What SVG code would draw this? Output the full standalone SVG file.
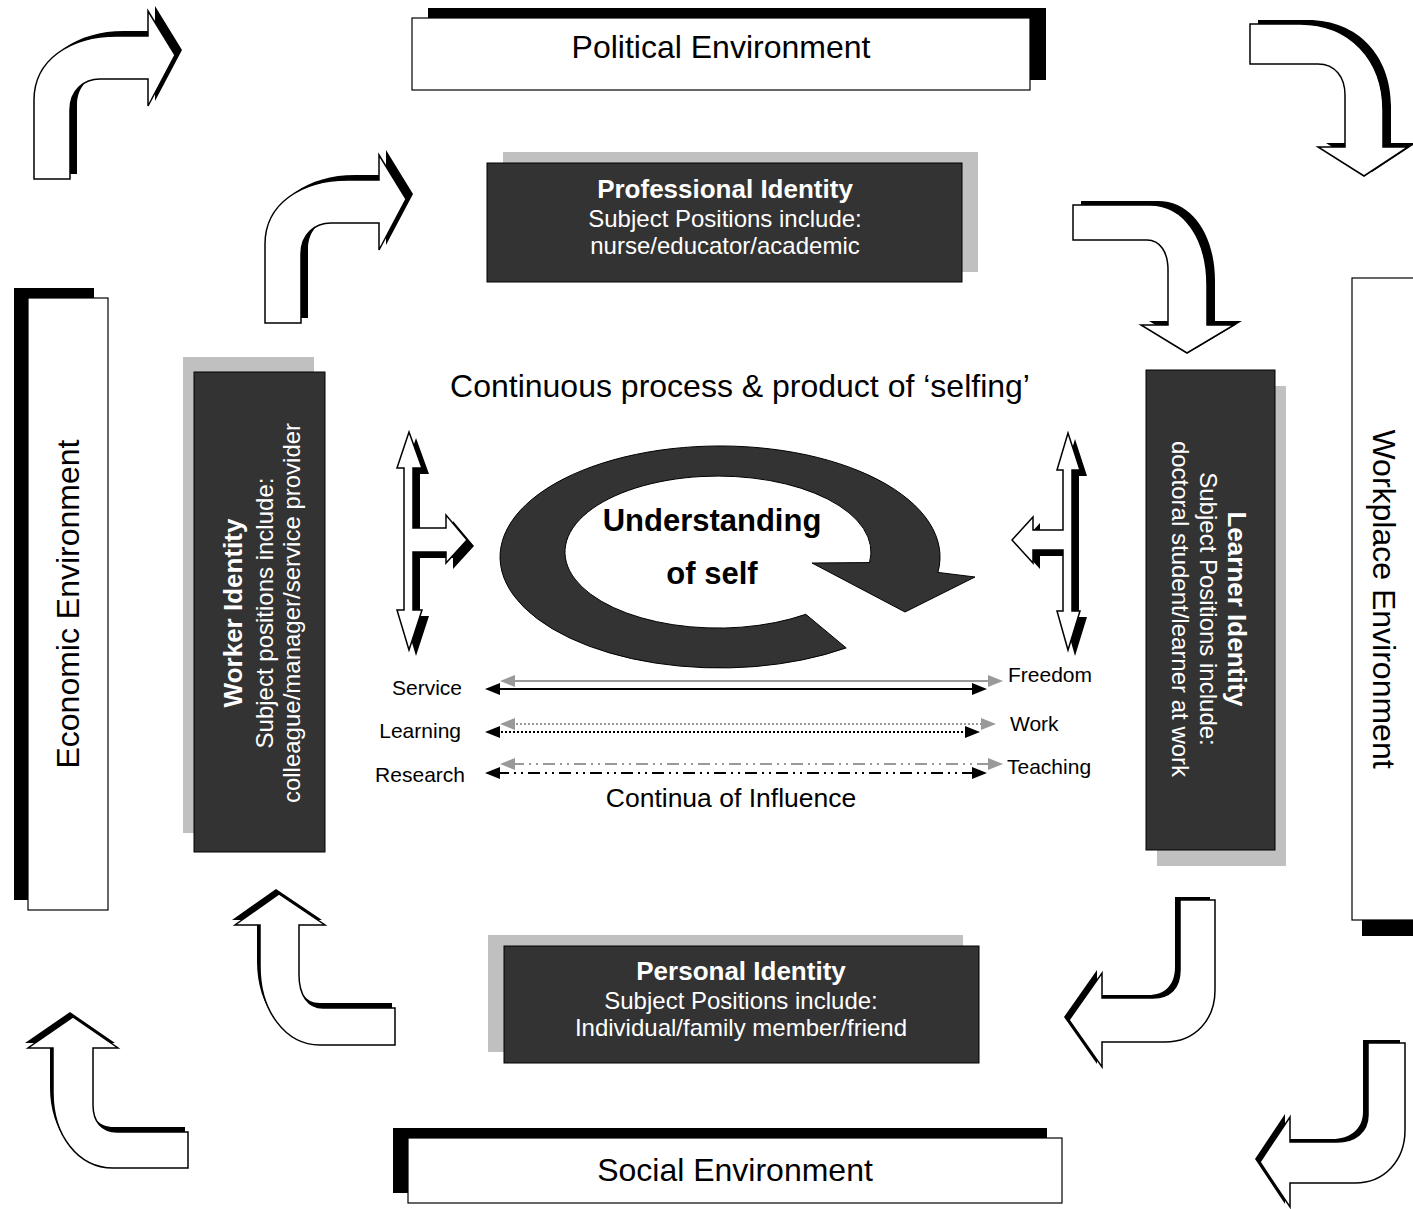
<svg xmlns="http://www.w3.org/2000/svg" width="1413" height="1209" viewBox="0 0 1413 1209">
  <style>
    text { font-family: "Liberation Sans", Arial, sans-serif; }
    .env { fill: #ffffff; stroke: #000000; stroke-width: 1.2; }
    .envsh { fill: #000000; }
    .idn { fill: #333333; stroke: #000000; stroke-width: 1; }
    .idsh { fill: #c0c0c0; }
    .bent { fill: #ffffff; stroke: #000000; stroke-width: 1.5; stroke-linejoin: miter; }
    .sh { fill: #000000; }
    .envtxt { font-size: 32px; fill: #000000; text-anchor: middle; }
    .idt { font-size: 26px; font-weight: bold; fill: #ffffff; text-anchor: middle; }
    .ids { font-size: 24px; fill: #ffffff; text-anchor: middle; }
    .lbl { font-size: 21px; fill: #000000; }
    .blk { stroke: #000000; stroke-width: 2; fill: none; }
    .gry { stroke: #999999; stroke-width: 2; fill: none; }
    .hb { fill: #000000; }
    .hg { fill: #999999; }
  </style>
  <defs>
    <path id="bentA" d="M34,179 L34,100 C34,60 70,36 117,36 L148,36 L148,11 L175,55 L148,106 L148,79 L100,79 C84,79 70,90 70,110 L70,179 Z"/>
  </defs>

  <!-- surrounding environments -->
  <g id="political-environment">
    <rect class="envsh" x="428" y="8" width="618" height="72"/>
    <rect class="env" x="412" y="18" width="618" height="72"/>
    <text class="envtxt" x="721" y="58">Political Environment</text>
  </g>
  <g id="social-environment">
    <rect class="envsh" x="393" y="1128" width="654" height="65"/>
    <rect class="env" x="408" y="1138" width="654" height="65"/>
    <text class="envtxt" x="735" y="1181">Social Environment</text>
  </g>
  <g id="economic-environment">
    <rect class="envsh" x="14" y="288" width="80" height="612"/>
    <rect class="env" x="28" y="298" width="80" height="612"/>
    <text class="envtxt" transform="translate(79,604) rotate(-90)">Economic Environment</text>
  </g>
  <g id="workplace-environment">
    <rect class="envsh" x="1362" y="294" width="80" height="642"/>
    <rect class="env" x="1352" y="278" width="80" height="642"/>
    <text class="envtxt" transform="translate(1373,599) rotate(90)">Workplace Environment</text>
  </g>

  <!-- identity boxes -->
  <g id="professional-identity">
    <rect class="idsh" x="503" y="152" width="475" height="120"/>
    <rect class="idn" x="487" y="163" width="475" height="119"/>
    <text class="idt" x="725" y="198">Professional Identity</text>
    <text class="ids" x="725" y="227">Subject Positions include:</text>
    <text class="ids" x="725" y="254">nurse/educator/academic</text>
  </g>
  <g id="personal-identity">
    <rect class="idsh" x="488" y="935" width="475" height="117"/>
    <rect class="idn" x="504" y="946" width="475" height="117"/>
    <text class="idt" x="741" y="980">Personal Identity</text>
    <text class="ids" x="741" y="1009">Subject Positions include:</text>
    <text class="ids" x="741" y="1036">Individual/family member/friend</text>
  </g>
  <g id="worker-identity">
    <rect class="idsh" x="183" y="357" width="131" height="476"/>
    <rect class="idn" x="194" y="372" width="131" height="480"/>
    <text class="idt" transform="translate(242,613) rotate(-90)">Worker Identity</text>
    <text class="ids" transform="translate(273,613) rotate(-90)">Subject positions include:</text>
    <text class="ids" transform="translate(300,613) rotate(-90)">colleague/manager/service provider</text>
  </g>
  <g id="learner-identity">
    <rect class="idsh" x="1157" y="386" width="129" height="480"/>
    <rect class="idn" x="1146" y="370" width="129" height="480"/>
    <text class="idt" transform="translate(1228,609) rotate(90)">Learner Identity</text>
    <text class="ids" transform="translate(1200,609) rotate(90)">Subject Positions include:</text>
    <text class="ids" transform="translate(1172,609) rotate(90)">doctoral student/learner at work</text>
  </g>

  <!-- centre: cycle of selfing -->
  <g id="selfing">
    <text x="740" y="397" style="font-size:32px;text-anchor:middle">Continuous process &amp; product of ‘selfing’</text>
    <path d="M846.2,647.9 A220,111 0 1 1 937.9,572.4 L975,577 L905,612 L812,563 L869.5,562.6 A153,76 0 1 0 805.8,614.3 Z" fill="#333333" stroke="#000000" stroke-width="1"/>
    <text x="712" y="531" style="font-size:31px;font-weight:bold;text-anchor:middle">Understanding</text>
    <text x="712" y="584" style="font-size:31px;font-weight:bold;text-anchor:middle">of self</text>
  </g>

  <!-- continua of influence -->
  <g id="continua">
    <text class="lbl" x="462" y="695" text-anchor="end">Service</text>
    <text class="lbl" x="461" y="738" text-anchor="end">Learning</text>
    <text class="lbl" x="465" y="782" text-anchor="end">Research</text>
    <text class="lbl" x="1008" y="682">Freedom</text>
    <text class="lbl" x="1010" y="731">Work</text>
    <text class="lbl" x="1007" y="774">Teaching</text>
    <text x="731" y="807" style="font-size:26.5px;text-anchor:middle">Continua of Influence</text>
  </g>

  <!-- connectors -->
  <g id="connectors">
    <!-- bent arrows, each with its drop shadow -->
    <use href="#bentA" class="sh" transform="translate(7,-5)"/>
    <use href="#bentA" class="bent"/>
    <use href="#bentA" class="sh" transform="translate(238,139)"/>
    <use href="#bentA" class="bent" transform="translate(231,144)"/>

    <path class="sh" transform="translate(8,-4)" d="M1250,24 L1300,24 C1350,24 1383,60 1383,110 L1383,147 L1408,147 L1364,176 L1318,147 L1345,147 L1345,95 C1345,77 1335,64 1318,64 L1250,64 Z"/>
    <path class="bent" d="M1250,24 L1300,24 C1350,24 1383,60 1383,110 L1383,147 L1408,147 L1364,176 L1318,147 L1345,147 L1345,95 C1345,77 1335,64 1318,64 L1250,64 Z"/>

    <path class="sh" transform="translate(8,-4)" d="M1073,205 L1150,205 C1185,205 1207,240 1207,285 L1207,325 L1234,325 L1187,353 L1141,325 L1168,325 L1168,270 C1168,252 1160,240 1147,240 L1073,240 Z"/>
    <path class="bent" d="M1073,205 L1150,205 C1185,205 1207,240 1207,285 L1207,325 L1234,325 L1187,353 L1141,325 L1168,325 L1168,270 C1168,252 1160,240 1147,240 L1073,240 Z"/>

    <path class="sh" transform="translate(-3,-5)" d="M260,925 L235,925 L279,894 L325,925 L299,925 L299,975 C299,995 308,1008 323,1008 L395,1008 L395,1045 L320,1045 C285,1045 260,1010 260,967 Z"/>
    <path class="bent" d="M260,925 L235,925 L279,894 L325,925 L299,925 L299,975 C299,995 308,1008 323,1008 L395,1008 L395,1045 L320,1045 C285,1045 260,1010 260,967 Z"/>

    <path class="sh" transform="translate(-3,-5)" d="M53,1048 L28,1048 L73,1017 L118,1048 L93,1048 L93,1105 C93,1122 102,1132 117,1132 L188,1132 L188,1168 L113,1168 C78,1168 53,1135 53,1093 Z"/>
    <path class="bent" d="M53,1048 L28,1048 L73,1017 L118,1048 L93,1048 L93,1105 C93,1122 102,1132 117,1132 L188,1132 L188,1168 L113,1168 C78,1168 53,1135 53,1093 Z"/>

    <path class="sh" transform="translate(-5,-3)" d="M1180,900 L1215,900 L1215,990 C1215,1020 1195,1042 1165,1042 L1102,1042 L1102,1067 L1069,1020 L1102,973 L1102,998 L1153,998 C1170,998 1180,988 1180,970 Z"/>
    <path class="bent" d="M1180,900 L1215,900 L1215,990 C1215,1020 1195,1042 1165,1042 L1102,1042 L1102,1067 L1069,1020 L1102,973 L1102,998 L1153,998 C1170,998 1180,988 1180,970 Z"/>

    <path class="sh" transform="translate(-5,-3)" d="M1368,1043 L1405,1043 L1405,1130 C1405,1160 1385,1183 1355,1183 L1290,1183 L1290,1207 L1260,1162 L1290,1117 L1290,1142 L1337,1142 C1355,1142 1368,1132 1368,1115 Z"/>
    <path class="bent" d="M1368,1043 L1405,1043 L1405,1130 C1405,1160 1385,1183 1355,1183 L1290,1183 L1290,1207 L1260,1162 L1290,1117 L1290,1142 L1337,1142 C1355,1142 1368,1132 1368,1115 Z"/>

    <!-- T-shaped double arrows beside the cycle -->
    <path class="sh" transform="translate(7,6)" d="M409,432 L422,468 L413,468 L413,528 L446,528 L446,515 L467,540 L446,563 L446,552 L413,552 L413,610 L422,610 L409,650 L397,610 L404,610 L404,468 L397,468 Z"/>
    <path class="bent" d="M409,432 L422,468 L413,468 L413,528 L446,528 L446,515 L467,540 L446,563 L446,552 L413,552 L413,610 L422,610 L409,650 L397,610 L404,610 L404,468 L397,468 Z"/>
    <path class="sh" transform="translate(7,6)" d="M1068,433 L1080,470 L1072,470 L1072,611 L1080,611 L1068,650 L1057,611 L1063,611 L1063,550 L1033,550 L1033,563 L1012,540 L1033,517 L1033,530 L1063,530 L1063,470 L1057,470 Z"/>
    <path class="bent" d="M1068,433 L1080,470 L1072,470 L1072,611 L1080,611 L1068,650 L1057,611 L1063,611 L1063,550 L1033,550 L1033,563 L1012,540 L1033,517 L1033,530 L1063,530 L1063,470 L1057,470 Z"/>

    <!-- continua lines -->
    <line class="gry" x1="512" y1="681" x2="990" y2="681"/>
    <polygon class="hg" points="500,681 515,675 515,687"/>
    <polygon class="hg" points="1003,681 988,675 988,687"/>
    <line class="blk" x1="497" y1="689" x2="975" y2="689"/>
    <polygon class="hb" points="485,689 500,683 500,695"/>
    <polygon class="hb" points="987,689 972,683 972,695"/>

    <line class="gry" x1="512" y1="724" x2="983" y2="724" stroke-dasharray="2 2"/>
    <polygon class="hg" points="500,724 515,718 515,730"/>
    <polygon class="hg" points="996,724 981,718 981,730"/>
    <line class="blk" x1="497" y1="732" x2="968" y2="732" stroke-dasharray="2 2"/>
    <polygon class="hb" points="485,732 500,726 500,738"/>
    <polygon class="hb" points="980,732 965,726 965,738"/>

    <line class="gry" x1="512" y1="764" x2="990" y2="764" stroke-dasharray="12 5 2 5 2 5"/>
    <polygon class="hg" points="500,764 515,758 515,770"/>
    <polygon class="hg" points="1003,764 988,758 988,770"/>
    <line class="blk" x1="497" y1="773" x2="975" y2="773" stroke-dasharray="12 5 2 5 2 5"/>
    <polygon class="hb" points="485,773 500,767 500,779"/>
    <polygon class="hb" points="987,773 972,767 972,779"/>
  </g>
</svg>
